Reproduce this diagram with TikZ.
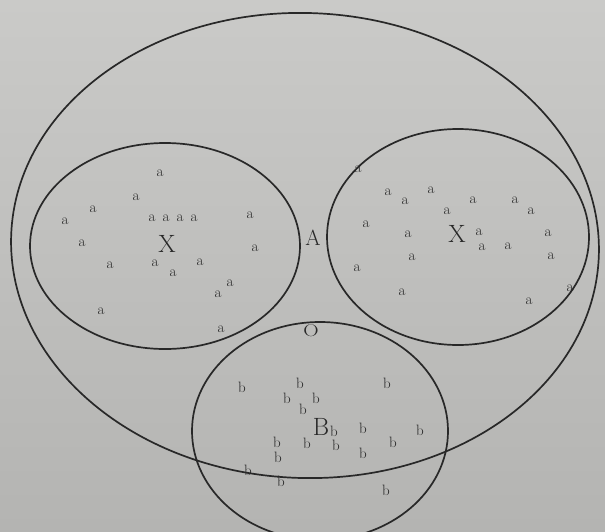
\documentclass[tikz,border=0pt]{standalone}
\definecolor{ink}{RGB}{40,40,40}
\definecolor{txt}{RGB}{40,40,40}
\definecolor{paperT}{RGB}{202,202,200}
\definecolor{paperB}{RGB}{180,180,178}
\tikzset{
  setline/.style={draw=ink, line width=1.7pt},
  smallletter/.style={font=\fontsize{15}{15}\selectfont, text=txt, inner sep=0pt},
  bigletter/.style={font=\fontsize{25}{25}\selectfont, text=txt, inner sep=0pt},
  midletter/.style={font=\fontsize{22}{22}\selectfont, text=txt, inner sep=0pt},
}
\begin{document}
\begin{tikzpicture}[x=1pt,y=-1pt]
\shade[top color=paperT,bottom color=paperB] (0,0) rectangle (605,531);
\useasboundingbox (0,0) rectangle (605,531);
% sets
\draw[setline, rotate around={-2:(305,245.5)}] (305,245.5) ellipse [x radius=294pt, y radius=232.5pt];
\draw[setline] (165,246) ellipse [x radius=135pt, y radius=103pt];
\draw[setline] (458,237) ellipse [x radius=131pt, y radius=108pt];
\draw[setline] (320,431) ellipse [x radius=128pt, y radius=109pt];
% left X cluster
\foreach \p [count=\i] in {(160,173),(136,197),(93,209),(65,221),(82,243),
  (152,218),(166,218),(180,218),(194,218),(250,215),(255,248),(110,265),
  (155,263),(173,273),(200,262),(230,283),(218,294),(101,311),(221,329)}
  \node[smallletter] (la\i) at \p {a};
% right X cluster
\foreach \p [count=\i] in {(358,169),(388,192),(405,201),(431,190),(473,200),
  (447,211),(515,200),(531,211),(366,224),(408,234),(479,232),(482,247),
  (508,246),(548,233),(551,256),(412,257),(357,268),(402,292),(529,301),(570,288)}
  \node[smallletter] (ra\i) at \p {a};
% B cluster
\foreach \p [count=\i] in {(242,387),(300,383),(287,398),(316,398),(303,409),
  (334,431),(336,445),(307,443),(363,428),(363,453),(393,442),(420,430),
  (387,383),(277,442),(278,457),(248,470),(281,481),(386,490)}
  \node[smallletter] (bb\i) at \p {b};
% labels
\node[bigletter] (xl) at (167,244) {X};
\node[bigletter] (xr) at (457,234) {X};
\node[bigletter] (bl) at (321,427) {B};
\node[midletter] (al) at (313,238) {A};
\node[font=\fontsize{17}{17}\selectfont, text=txt, inner sep=0pt, xscale=1.25] (ol) at (311,331) {O};
\end{tikzpicture}
\end{document}
